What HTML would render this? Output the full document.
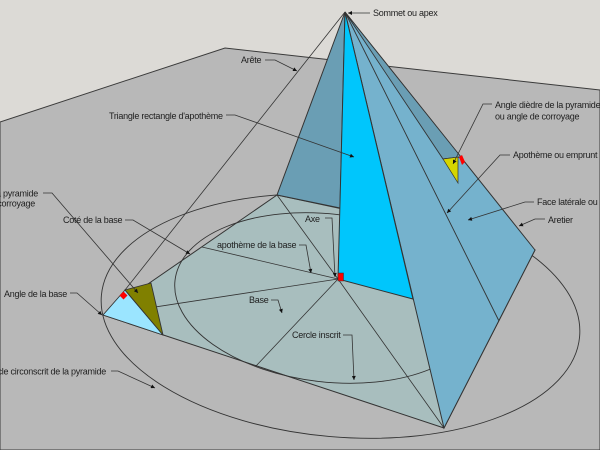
<!DOCTYPE html>
<html>
<head>
<meta charset="utf-8">
<style>
html,body{margin:0;padding:0;background:#dcdad6;}
svg{display:block;}
text{font-family:"Liberation Sans",Arial,sans-serif;font-size:9px;letter-spacing:-0.25px;fill:#1e1e1e;}
</style>
</head>
<body>
<svg width="600" height="450" viewBox="0 0 600 450" xmlns="http://www.w3.org/2000/svg">
<defs>
<marker id="a" viewBox="0 0 10 10" refX="10" refY="5" markerUnits="userSpaceOnUse" markerWidth="5" markerHeight="4" orient="auto">
<path d="M0,0 L10,5 L0,10 z" fill="#111"/>
</marker>
</defs>
<rect x="0" y="0" width="600" height="450" fill="#dcdad6"/>
<!-- ground -->
<polygon points="0,122 225,48 600,90 600,450 0,450" fill="#b8b8b8" stroke="#3a3a3a" stroke-width="1"/>
<!-- base -->
<polygon points="103,315 277,195 535,250 444,428" fill="#a8bebe" stroke="#333" stroke-width="1"/>
<path d="M338,279 L277,195 M338,279 L103,315 M338,279 L202,247 M338,279 L256,366 M338,279 L444,428" stroke="#333" stroke-width="0.8" fill="none"/>
<!-- ellipses -->
<ellipse cx="328" cy="298" rx="154" ry="84" transform="rotate(6.6 328 298)" fill="none" stroke="#333" stroke-width="0.9"/>
<ellipse cx="340.5" cy="316" rx="240" ry="121" transform="rotate(4.9 340.5 316)" fill="none" stroke="#333" stroke-width="0.9"/>
<!-- arete line -->
<path d="M345,12 L125,290" stroke="#333" stroke-width="0.8" fill="none"/>
<!-- faces -->
<polygon points="345,12 277,195 340,208" fill="#6a9eb4" stroke="#333" stroke-width="1"/>
<polygon points="345,12 535,250 444,428" fill="#75b2cd" stroke="#333" stroke-width="1"/>
<polygon points="345,12 338,279 413,299" fill="#00c6fc" stroke="#333" stroke-width="1"/>
<path d="M345,12 L499,321" stroke="#333" stroke-width="0.9" fill="none"/>
<polygon points="345,12 443,159 461,157" fill="#6a9eb4" stroke="#333" stroke-width="0.9"/>
<polygon points="443,159 458,157 458,183" fill="#d6d600" stroke="#333" stroke-width="0.7"/>
<polygon points="459,157 462,155 465,162 462,165" fill="#ff0000"/>
<!-- base angle triangles -->
<polygon points="125,290 103,315 163,335" fill="#9be5ff" stroke="#333" stroke-width="0.9"/>
<polygon points="125,290 151,283 163,335" fill="#808000" stroke="#333" stroke-width="0.9"/>
<polygon points="123.5,291.5 127.5,295.5 123.5,299.5 119.5,295.5" fill="#ff0000"/>
<rect x="338" y="273" width="5.5" height="8" fill="#ff0000" stroke="#333" stroke-width="0.5"/>
<!-- leaders -->
<g stroke="#333" stroke-width="0.8" fill="none" marker-end="url(#a)">
<path d="M370,13 L348,13"/>
<path d="M265,60 L275,60 L297,71"/>
<path d="M226,115 L235,115 L354,157"/>
<path d="M492,104 L483,104 L453,164"/>
<path d="M510,155 L500,155 L447,213"/>
<path d="M534,202 L525,202 L468,220"/>
<path d="M545,219 L535,219 L519,226"/>
<path d="M43,193 L52,193 L138,293"/>
<path d="M125,220 L133,220 L190,254"/>
<path d="M70,293 L77,293 L102,315"/>
<path d="M111,371 L118,371 L155,388"/>
<path d="M325,218 L332,218 L335,277"/>
<path d="M299,245 L306,245 L311,273"/>
<path d="M271,300 L278,300 L282,313"/>
<path d="M343,335 L352,335 L354,380"/>
</g>
<!-- labels -->
<text x="373" y="16">Sommet ou apex</text>
<text x="241" y="63">Arête</text>
<text x="109" y="119">Triangle rectangle d'apothème</text>
<text x="495" y="108">Angle dièdre de la pyramide</text>
<text x="495" y="119.5">ou angle de corroyage</text>
<text x="513" y="158">Apothème ou emprunt</text>
<text x="537" y="205">Face latérale ou côté</text>
<text x="548" y="223">Aretier</text>
<text x="38" y="196.5" text-anchor="end">Angle dièdre de la pyramide</text>
<text x="35" y="206.5" text-anchor="end">ou angle de corroyage</text>
<text x="63" y="223">Coté de la base</text>
<text x="4" y="297">Angle de la base</text>
<text x="106" y="374.5" text-anchor="end">Cercle circonscrit de la pyramide</text>
<text x="305" y="222">Axe</text>
<text x="217" y="248">apothème de la base</text>
<text x="249" y="303">Base</text>
<text x="292" y="338">Cercle inscrit</text>
</svg>
</body>
</html>
